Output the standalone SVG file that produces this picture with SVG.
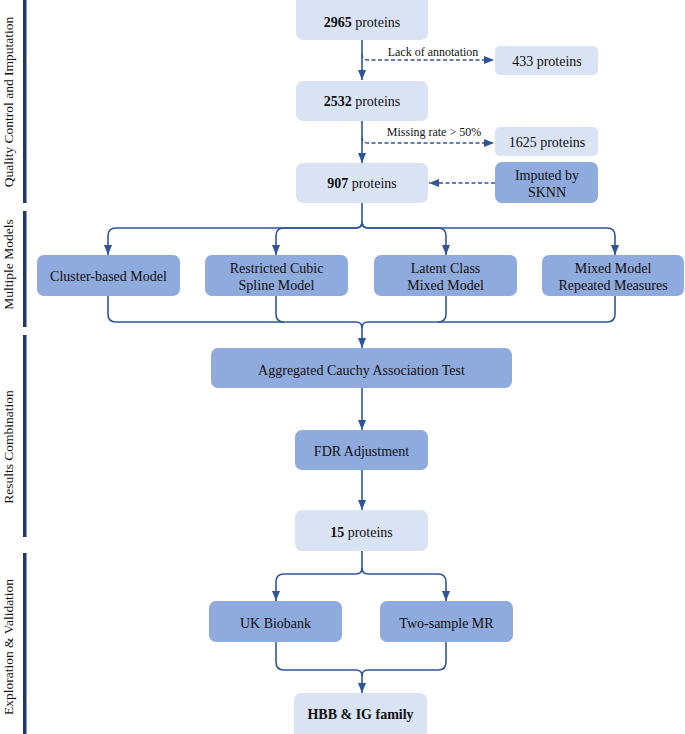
<svg xmlns="http://www.w3.org/2000/svg" width="685" height="734" viewBox="0 0 685 734" font-family="'Liberation Serif', 'DejaVu Serif', serif">
<style>
text{font-family:'Liberation Serif','DejaVu Serif',serif;font-size:14px;fill:#111;text-anchor:middle}
.light{fill:#DAE3F3}
.dark{fill:#8FAADC}
.c{fill:none;stroke:#2F5597;stroke-width:1.6}
.d{fill:none;stroke:#2F5597;stroke-width:1.4;stroke-dasharray:4 2.5}
.bar{fill:#203864}
.side{font-size:13.5px}
.small{font-size:12px}
</style>
<defs>
<marker id="ah" markerUnits="userSpaceOnUse" markerWidth="10" markerHeight="10" viewBox="0 0 10 10" refX="10" refY="5" orient="auto">
<path d="M0,1 L10,5 L0,9 Z" fill="#2F5597"/>
</marker>
</defs>
<g id="sidebar">
<rect class="bar" x="23" y="0" width="3.5" height="203"/>
<rect class="bar" x="23" y="211" width="3.5" height="116"/>
<rect class="bar" x="23" y="335" width="3.5" height="202"/>
<rect class="bar" x="23" y="553" width="3.5" height="181"/>
<text class="side" transform="translate(13,102) rotate(-90)">Quality Control and Imputation</text>
<text class="side" transform="translate(13,264.5) rotate(-90)">Multiple Models</text>
<text class="side" transform="translate(13,447) rotate(-90)">Results Combination</text>
<text class="side" transform="translate(13,647) rotate(-90)">Exploration &amp; Validation</text>
</g>
<g id="connectors">
<path class="c" d="M362,40 V80" marker-end="url(#ah)"/>
<path class="c" d="M362,121 V163" marker-end="url(#ah)"/>
<path class="d" d="M362,54 Q362,60 368,60 H494" marker-end="url(#ah)"/>
<path class="d" d="M362,137 Q362,143 368,143 H494" marker-end="url(#ah)"/>
<path class="d" d="M495,183 H429" marker-end="url(#ah)"/>
<path class="c" d="M362,203 V222 Q362,228 356,228 H116 Q108,228 108,236 V255" marker-end="url(#ah)"/>
<path class="c" d="M362,222 Q362,228 356,228 H284 Q276,228 276,236 V255" marker-end="url(#ah)"/>
<path class="c" d="M362,222 Q362,228 368,228 H438 Q446,228 446,236 V255" marker-end="url(#ah)"/>
<path class="c" d="M362,222 Q362,228 368,228 H607 Q615,228 615,236 V255" marker-end="url(#ah)"/>
<path class="c" d="M108,296 V314 Q108,322 116,322 H356 Q362,322 362,328 V348" marker-end="url(#ah)"/>
<path class="c" d="M276,296 V314 Q276,322 284,322"/>
<path class="c" d="M446,296 V314 Q446,322 438,322"/>
<path class="c" d="M615,296 V314 Q615,322 607,322 H368 Q362,322 362,328"/>
<path class="c" d="M362,388 V430" marker-end="url(#ah)"/>
<path class="c" d="M362,470 V510" marker-end="url(#ah)"/>
<path class="c" d="M362,551 V568 Q362,574 356,574 H284 Q276,574 276,582 V601" marker-end="url(#ah)"/>
<path class="c" d="M362,568 Q362,574 368,574 H438 Q446,574 446,582 V601" marker-end="url(#ah)"/>
<path class="c" d="M276,642 V662 Q276,670 284,670 H356 Q362,670 362,676 V693" marker-end="url(#ah)"/>
<path class="c" d="M446,642 V662 Q446,670 438,670 H368 Q362,670 362,676"/>
</g>
<g id="n2965"><rect class="light" x="296" y="-8" width="132" height="48" rx="7"/><text x="362" y="27"><tspan font-weight="bold">2965</tspan> proteins</text></g>
<g id="lbl1"><text class="small" x="433" y="56">Lack of annotation</text></g>
<g id="n433"><rect class="light" x="495" y="46" width="103" height="29" rx="5"/><text x="547" y="66">433 proteins</text></g>
<g id="n2532"><rect class="light" x="296" y="81" width="132" height="40" rx="7"/><text x="362" y="106"><tspan font-weight="bold">2532</tspan> proteins</text></g>
<g id="lbl2"><text class="small" x="434" y="136">Missing rate &gt; 50%</text></g>
<g id="n1625"><rect class="light" x="495" y="127" width="103" height="29" rx="5"/><text x="547" y="147">1625 proteins</text></g>
<g id="n907"><rect class="light" x="296" y="163" width="132" height="40" rx="7"/><text x="362" y="188"><tspan font-weight="bold">907</tspan> proteins</text></g>
<g id="sknn"><rect class="dark" x="495" y="162" width="103" height="41" rx="7"/><text x="547" y="180">Imputed by</text><text x="547" y="197">SKNN</text></g>
<g id="m1"><rect class="dark" x="37" y="255" width="143" height="41" rx="7"/><text x="108.5" y="281">Cluster-based Model</text></g>
<g id="m2"><rect class="dark" x="205" y="255" width="143" height="41" rx="7"/><text x="276.5" y="273">Restricted Cubic</text><text x="276.5" y="290">Spline Model</text></g>
<g id="m3"><rect class="dark" x="374" y="255" width="143" height="41" rx="7"/><text x="445.5" y="273">Latent Class</text><text x="445.5" y="290">Mixed Model</text></g>
<g id="m4"><rect class="dark" x="542" y="255" width="142" height="41" rx="7"/><text x="613" y="273">Mixed Model</text><text x="613" y="290">Repeated Measures</text></g>
<g id="acat"><rect class="dark" x="211" y="348" width="301" height="40" rx="7"/><text x="361.5" y="375">Aggregated Cauchy Association Test</text></g>
<g id="fdr"><rect class="dark" x="295" y="430" width="133" height="40" rx="7"/><text x="361.5" y="456">FDR Adjustment</text></g>
<g id="n15"><rect class="light" x="295" y="510" width="133" height="41" rx="7"/><text x="361.5" y="537"><tspan font-weight="bold">15</tspan> proteins</text></g>
<g id="ukb"><rect class="dark" x="209" y="601" width="133" height="41" rx="7"/><text x="275.5" y="628">UK Biobank</text></g>
<g id="mr"><rect class="dark" x="380" y="601" width="133" height="41" rx="7"/><text x="446.5" y="628">Two-sample MR</text></g>
<g id="hbb"><rect class="light" x="294" y="693" width="133" height="49" rx="7"/><text x="360.5" y="719" font-weight="bold">HBB &amp; IG family</text></g>
</svg>
